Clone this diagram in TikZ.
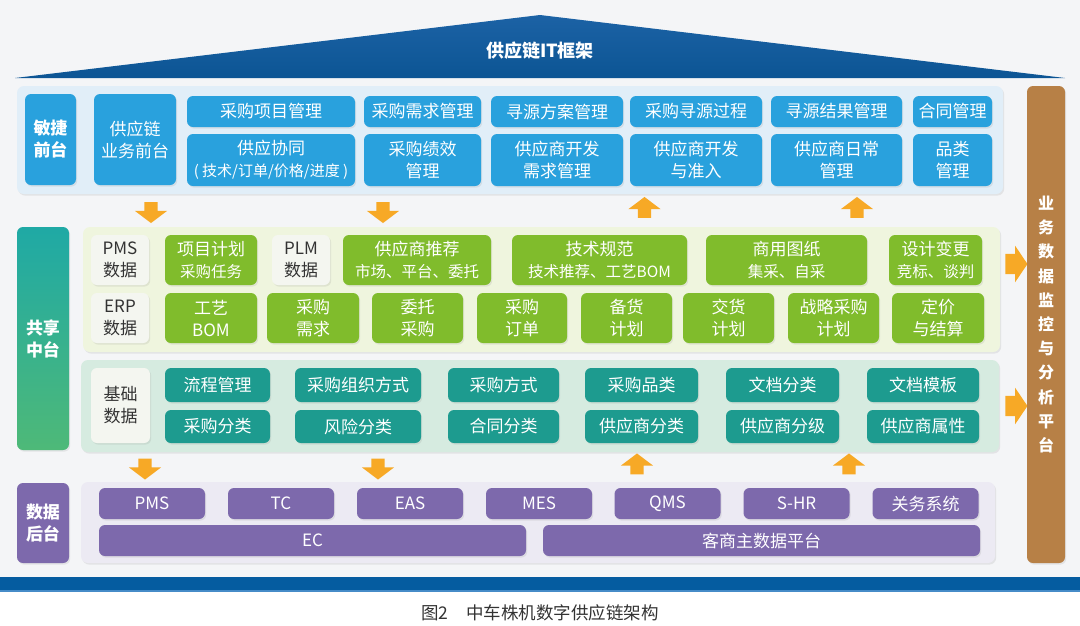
\documentclass[tikz,border=0pt]{standalone}
\usepackage{fontspec}
\setmainfont{Noto Sans CJK SC}
\usepackage{xcolor}
\usepackage{tikz}
\usetikzlibrary{shapes.arrows, positioning, shadows}
\definecolor{pagebg}{RGB}{244, 245, 247}
\definecolor{roofblue}{RGB}{12, 85, 148}
\definecolor{rooftop}{RGB}{28, 98, 165}
\definecolor{bandblue}{RGB}{5, 92, 160}
\definecolor{bandline}{RGB}{70, 140, 200}
\definecolor{frontblue}{RGB}{41, 161, 221}
\definecolor{frontbg}{RGB}{225, 238, 248}
\definecolor{leafgreen}{RGB}{128, 188, 44}
\definecolor{leafbg}{RGB}{239, 245, 222}
\definecolor{basegreen}{RGB}{29, 155, 143}
\definecolor{basebg}{RGB}{214, 235, 224}
\definecolor{paleboard}{RGB}{244, 246, 240}
\definecolor{backpurple}{RGB}{125, 105, 172}
\definecolor{backbg}{RGB}{236, 234, 243}
\definecolor{monitorbrown}{RGB}{183, 128, 70}
\definecolor{arroworange}{RGB}{247, 169, 38}
\definecolor{sharedtop}{RGB}{31, 169, 165}
\definecolor{sharedbottom}{RGB}{78, 185, 120}
\definecolor{textgray}{RGB}{51, 51, 51}
\newcommand{\subline}[1]{{\fontsize{15.5}{22}\selectfont #1}}
\tikzset{
  font=\fontsize{17}{22}\selectfont,
  softshadow/.style={drop shadow={opacity=0.15, shadow xshift=1.2pt, shadow yshift=-1.6pt}},
  panelbox/.style={rectangle, rounded corners=7pt, inner sep=0pt, softshadow},
  cellbox/.style={
    rectangle, rounded corners=6pt, inner sep=0pt,
    align=center, text=white, softshadow
  },
  layerlabel/.style={cellbox, font=\bfseries\fontsize{17}{22}\selectfont},
  frontcell/.style={cellbox, fill=frontblue},
  leafcell/.style={cellbox, fill=leafgreen},
  basecell/.style={cellbox, fill=basegreen},
  backcell/.style={cellbox, fill=backpurple},
  datacell/.style={cellbox, fill=paleboard, text=textgray},
  layerarrow/.style={
    single arrow, fill=arroworange, inner xsep=0pt, inner ysep=6.5pt,
    minimum height=21pt, minimum width=0pt,
    single arrow head extend=9.5pt, single arrow tip angle=106
  },
  sidearrow/.style={
    layerarrow, inner ysep=10pt, minimum height=22pt,
    single arrow head extend=8pt, single arrow tip angle=112
  }
}

\begin{document}
\begin{tikzpicture}[x=1pt, y=-1pt]
  \useasboundingbox (0,0) rectangle (1080,625);
  \fill[pagebg] (0,0) rectangle (1080,577);
  \fill[bandblue] (0,577) rectangle (1080,590);
  \fill[bandline] (0,590) rectangle (1080,592);

  \shade[top color=rooftop, bottom color=roofblue] (15,78) -- (540,15) -- (1065,78) -- cycle;
  \node[text=white, font=\bfseries\fontsize{18}{22}\selectfont] (title) at (540,51) {供应链IT框架};

  % front
  \node[panelbox, fill=frontbg, minimum width=986pt, minimum height=108pt] (front) at (510,140) {};
  \node[layerlabel, fill=frontblue, minimum width=51pt, minimum height=91pt] (flab) at (50.5,139.5) {敏捷\\前台};
  \node[frontcell, minimum width=82pt, minimum height=91pt] (fbiz) at (135,139.5) {供应链\\业务前台};
  \node[frontcell, minimum width=168pt, minimum height=31pt] (f11) at (271,111.5) {采购项目管理};
  \node[frontcell, minimum width=117pt, minimum height=31pt] (f12) at (422.5,111.5) {采购需求管理};
  \node[frontcell, minimum width=132pt, minimum height=31pt] (f13) at (557,111.5) {寻源方案管理};
  \node[frontcell, minimum width=132pt, minimum height=31pt] (f14) at (696,111.5) {采购寻源过程};
  \node[frontcell, minimum width=131pt, minimum height=31pt] (f15) at (836.5,111.5) {寻源结果管理};
  \node[frontcell, minimum width=79pt, minimum height=31pt] (f16) at (952.5,111.5) {合同管理};
  \node[frontcell, minimum width=168pt, minimum height=52pt] (f21) at (271,160) {供应协同\\{\fontsize{15}{22}\selectfont ( 技术/订单/价格/进度 )}};
  \node[frontcell, minimum width=117pt, minimum height=52pt] (f22) at (422.5,160) {采购绩效\\管理};
  \node[frontcell, minimum width=132pt, minimum height=52pt] (f23) at (557,160) {供应商开发\\需求管理};
  \node[frontcell, minimum width=132pt, minimum height=52pt] (f24) at (696,160) {供应商开发\\与准入};
  \node[frontcell, minimum width=131pt, minimum height=52pt] (f25) at (836.5,160) {供应商日常\\管理};
  \node[frontcell, minimum width=79pt, minimum height=52pt] (f26) at (952.5,160) {品类\\管理};

  \node[layerarrow, rotate=-90] (adown1) at (151,210) {};
  \node[layerarrow, rotate=-90] (adown2) at (383,210) {};
  \node[layerarrow, rotate=90] (aup1) at (644.5,210) {};
  \node[layerarrow, rotate=90] (aup2) at (857,210) {};

  % shared
  \node[layerlabel, top color=sharedtop, bottom color=sharedbottom, minimum width=52pt, minimum height=223pt] (slab) at (43,338.5) {共享\\中台};
  \node[panelbox, fill=leafbg, minimum width=917pt, minimum height=125pt] (shared) at (541.5,289.5) {};
  \node[datacell, minimum width=58pt, minimum height=50pt] (pms) at (120,260) {PMS\\数据};
  \node[leafcell, minimum width=92pt, minimum height=50pt] (s11) at (211,260) {项目计划\\\subline{采购任务}};
  \node[datacell, minimum width=58pt, minimum height=50pt] (plm) at (301,260) {PLM\\数据};
  \node[leafcell, minimum width=148pt, minimum height=50pt] (s12) at (417,260) {供应商推荐\\\subline{市场、平台、委托}};
  \node[leafcell, minimum width=175pt, minimum height=50pt] (s13) at (599.5,260) {技术规范\\\subline{技术推荐、工艺BOM}};
  \node[leafcell, minimum width=161pt, minimum height=50pt] (s14) at (786.5,260) {商用图纸\\\subline{集采、自采}};
  \node[leafcell, minimum width=93pt, minimum height=50pt] (s15) at (935.5,260) {设计变更\\\subline{竞标、谈判}};
  \node[datacell, minimum width=58pt, minimum height=50pt] (erp) at (120,318) {ERP\\数据};
  \node[leafcell, minimum width=92pt, minimum height=50pt] (s21) at (211,318) {工艺\\BOM};
  \node[leafcell, minimum width=92pt, minimum height=50pt] (s22) at (313,318) {采购\\需求};
  \node[leafcell, minimum width=91pt, minimum height=50pt] (s23) at (417.5,318) {委托\\采购};
  \node[leafcell, minimum width=90pt, minimum height=50pt] (s24) at (522,318) {采购\\订单};
  \node[leafcell, minimum width=91pt, minimum height=50pt] (s25) at (626.5,318) {备货\\计划};
  \node[leafcell, minimum width=91pt, minimum height=50pt] (s26) at (728.5,318) {交货\\计划};
  \node[leafcell, minimum width=91pt, minimum height=50pt] (s27) at (833.5,318) {战略采购\\计划};
  \node[leafcell, minimum width=92pt, minimum height=50pt] (s28) at (938,318) {定价\\与结算};

  % base data
  \node[panelbox, fill=basebg, minimum width=918pt, minimum height=92pt] (base) at (540,406) {};
  \node[datacell, minimum width=59pt, minimum height=75pt] (basic) at (120.5,405.5) {基础\\数据};
  \node[basecell, minimum width=105pt, minimum height=34pt] (b11) at (217.5,385) {流程管理};
  \node[basecell, minimum width=126pt, minimum height=34pt] (b12) at (358,385) {采购组织方式};
  \node[basecell, minimum width=111pt, minimum height=34pt] (b13) at (503.5,385) {采购方式};
  \node[basecell, minimum width=113pt, minimum height=34pt] (b14) at (641.5,385) {采购品类};
  \node[basecell, minimum width=113pt, minimum height=34pt] (b15) at (782.5,385) {文档分类};
  \node[basecell, minimum width=112pt, minimum height=34pt] (b16) at (923,385) {文档模板};
  \node[basecell, minimum width=105pt, minimum height=33pt] (b21) at (217.5,426.5) {采购分类};
  \node[basecell, minimum width=126pt, minimum height=33pt] (b22) at (358,426.5) {风险分类};
  \node[basecell, minimum width=111pt, minimum height=33pt] (b23) at (503.5,426.5) {合同分类};
  \node[basecell, minimum width=113pt, minimum height=33pt] (b24) at (641.5,426.5) {供应商分类};
  \node[basecell, minimum width=113pt, minimum height=33pt] (b25) at (782.5,426.5) {供应商分级};
  \node[basecell, minimum width=112pt, minimum height=33pt] (b26) at (923,426.5) {供应商属性};

  \node[sidearrow] (aright1) at (1013,264) {};
  \node[sidearrow] (aright2) at (1013,406) {};

  \node[layerarrow, rotate=-90] (adown3) at (145,466.5) {};
  \node[layerarrow, rotate=-90] (adown4) at (378,466.5) {};
  \node[layerarrow, rotate=90] (aup3) at (637,466.5) {};
  \node[layerarrow, rotate=90] (aup4) at (849,466.5) {};

  % back end
  \node[layerlabel, fill=backpurple, minimum width=52pt, minimum height=80pt] (blab) at (43,523) {数据\\后台};
  \node[panelbox, fill=backbg, minimum width=914pt, minimum height=81pt] (back) at (538,522.5) {};
  \node[backcell, minimum width=106pt, minimum height=31pt] (pmsys) at (152,503.5) {PMS};
  \node[backcell, minimum width=106pt, minimum height=31pt] (tc) at (281,503.5) {TC};
  \node[backcell, minimum width=106pt, minimum height=31pt] (eas) at (410,503.5) {EAS};
  \node[backcell, minimum width=106pt, minimum height=31pt] (mes) at (539,503.5) {MES};
  \node[backcell, minimum width=106pt, minimum height=31pt] (qms) at (667.5,503.5) {QMS};
  \node[backcell, minimum width=106pt, minimum height=31pt] (shr) at (796.5,503.5) {S-HR};
  \node[backcell, minimum width=106pt, minimum height=31pt] (customs) at (925.5,503.5) {关务系统};
  \node[backcell, minimum width=427pt, minimum height=31pt] (ec) at (312.5,540.5) {EC};
  \node[backcell, minimum width=437pt, minimum height=31pt] (mdm) at (761.5,540.5) {客商主数据平台};

  % monitor
  \node[layerlabel, fill=monitorbrown, minimum width=38pt, minimum height=477pt,
        font=\bfseries\fontsize{16}{24.2}\selectfont] (monitor) at (1046,324.5)
        {业\\务\\数\\据\\监\\控\\与\\分\\析\\平\\台};

  \node[text=textgray, font=\fontsize{17.5}{22}\selectfont] (caption) at (540,613) {图2\hspace{1em}中车株机数字供应链架构};
\end{tikzpicture}
\end{document}
